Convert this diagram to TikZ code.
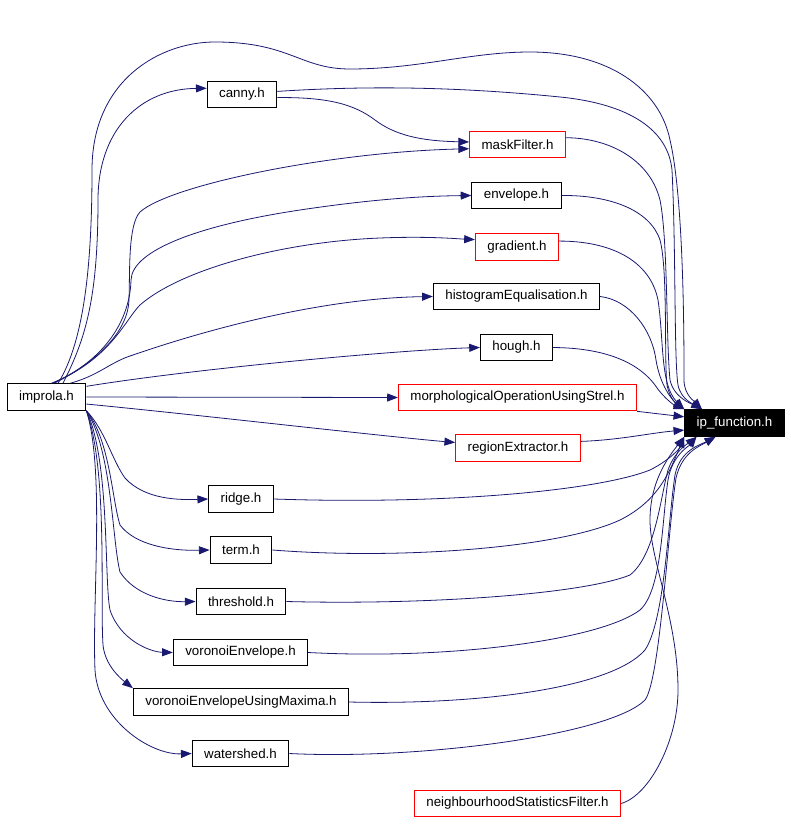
\documentclass[tikz,border=0pt]{standalone}
\usepackage{fontspec}
\setmainfont{Liberation Sans}
\usetikzlibrary{arrows.meta}
\definecolor{midnightblue}{RGB}{25,25,112}
\tikzset{
  hfile/.style={draw=black,line width=0.75pt,fill=white,inner xsep=9pt,inner ysep=0pt,minimum height=20pt,font=\fontsize{10}{12}\selectfont},
  hfilered/.style={hfile,draw=red},
  hfiletop/.style={hfile,fill=black,text=white},
  dep/.style={midnightblue,line width=0.6pt,-{Triangle[length=8pt,width=6pt]}}
}
\begin{document}
\begin{tikzpicture}[x=0.75pt,y=-0.75pt]
\useasboundingbox (0,0) rectangle (791,824);
% files
\node[hfile] (improla) at (46.5,397) {improla.h};
\node[hfiletop] (ip) at (734.5,423) {ip\_function.h};
\node[hfile] (canny) at (242,94.5) {canny.h};
\node[hfilered] (maskFilter) at (517.5,144.5) {maskFilter.h};
\node[hfile] (envelope) at (516.5,195.5) {envelope.h};
\node[hfilered] (gradient) at (517,247) {gradient.h};
\node[hfile] (histogramEqualisation) at (516.5,296.5) {histogramEqualisation.h};
\node[hfile] (hough) at (516.5,347.5) {hough.h};
\node[hfilered] (morphologicalOperationUsingStrel) at (517.5,397.5) {morphologicalOperationUsingStrel.h};
\node[hfilered] (regionExtractor) at (518,448) {regionExtractor.h};
\node[hfile] (ridge) at (241,499) {ridge.h};
\node[hfile] (term) at (241,550) {term.h};
\node[hfile] (threshold) at (241,601.5) {threshold.h};
\node[hfile] (voronoiEnvelope) at (240.5,652.5) {voronoiEnvelope.h};
\node[hfile] (voronoiEnvelopeUsingMaxima) at (241,702) {voronoiEnvelopeUsingMaxima.h};
\node[hfile] (watershed) at (240.5,753.5) {watershed.h};
\node[hfilered] (neighbourhoodStatisticsFilter) at (517.5,803.5) {neighbourhoodStatisticsFilter.h};
% improla.h includes
\draw[dep] (improla.50) .. controls (85,340) and (92,260) .. (92,170) .. controls (92,80) and (160,42) .. (215,42) .. controls (290,42) and (300,69) .. (350,69) .. controls (420,69) and (470,52) .. (530,52) .. controls (610,52) and (660,90) .. (670,140) .. controls (684,200) and (684,340) .. (684,380) .. controls (684,395) and (695,402) .. (ip.157);
\draw[dep] (improla.40) .. controls (85,340) and (98,300) .. (98,200) .. controls (98,130) and (140,89) .. (canny.170);
\draw[dep] (improla.60) .. controls (100,360) and (128,330) .. (129,300) .. controls (130,270) and (128,225) .. (140,212) .. controls (170,185) and (330,152) .. (maskFilter.185);
\draw[dep] (improla.65) .. controls (105,360) and (130,320) .. (131,280) .. controls (132,250) and (200,225) .. (300,210) .. controls (380,198) and (430,196) .. (envelope.west);
\draw[dep] (improla.70) .. controls (110,360) and (125,320) .. (140,305) .. controls (180,270) and (280,242) .. (380,238) .. controls (430,236) and (460,239) .. (gradient.170);
\draw[dep] (improla.30) .. controls (100,375) and (110,362) .. (133,355) .. controls (220,325) and (330,298) .. (histogramEqualisation.west);
\draw[dep] (improla.15) .. controls (200,368) and (400,350) .. (hough.west);
\draw[dep] (improla.east) -- (morphologicalOperationUsingStrel.west);
\draw[dep] (improla.-10) .. controls (200,415) and (380,436) .. (regionExtractor.175);
\draw[dep] (improla.south east) .. controls (105,430) and (112,460) .. (125,478) .. controls (145,500) and (180,500) .. (ridge.west);
\draw[dep] (improla.south east) .. controls (110,440) and (112,500) .. (120,525) .. controls (135,545) and (170,551) .. (term.west);
\draw[dep] (improla.south east) .. controls (112,450) and (112,540) .. (120,572) .. controls (135,595) and (165,602) .. (threshold.west);
\draw[dep] (improla.south east) .. controls (110,460) and (104,580) .. (110,610) .. controls (120,640) and (150,652) .. (voronoiEnvelope.west);
\draw[dep] (improla.south east) .. controls (108,470) and (100,600) .. (103,645) .. controls (105,665) and (120,678) .. (voronoiEnvelopeUsingMaxima.north west);
\draw[dep] (improla.south east) .. controls (105,470) and (92,600) .. (95,670) .. controls (98,720) and (150,755) .. (watershed.west);
% canny.h includes
\draw[dep] (canny.5) .. controls (360,86) and (450,86) .. (560,97) .. controls (630,104) and (668,130) .. (672,170) .. controls (676,250) and (674,360) .. (678,385) .. controls (681,400) and (695,405) .. (ip.157);
\draw[dep] (canny.-5) .. controls (330,97) and (355,105) .. (375,120) .. controls (395,135) and (420,141) .. (maskFilter.177);
% everything includes ip_function.h
\draw[dep] (maskFilter.8) .. controls (610,138) and (650,160) .. (660,200) .. controls (668,240) and (666,340) .. (670,380) .. controls (674,398) and (692,404) .. (ip.157);
\draw[dep] (envelope.east) .. controls (610,195) and (650,210) .. (660,240) .. controls (668,270) and (664,360) .. (667,385) .. controls (670,400) and (678,405) .. (ip.north west);
\draw[dep] (gradient.8) .. controls (610,241) and (650,260) .. (658,300) .. controls (664,340) and (660,385) .. (ip.north west);
\draw[dep] (histogramEqualisation.east) .. controls (630,300) and (652,330) .. (656,360) .. controls (660,385) and (672,400) .. (ip.north west);
\draw[dep] (hough.east) .. controls (610,348) and (640,365) .. (655,385) .. controls (665,400) and (676,406) .. (ip.north west);
\draw[dep] (morphologicalOperationUsingStrel.south east) -- (ip.173);
\draw[dep] (regionExtractor.6) .. controls (620,440) and (650,433) .. (ip.188);
\draw[dep] (ridge.east) .. controls (450,505) and (600,490) .. (650,470) .. controls (670,460) and (680,448) .. (ip.south west);
\draw[dep] (term.east) .. controls (400,560) and (560,548) .. (620,520) .. controls (660,500) and (670,470) .. (ip.south west);
\draw[dep] (threshold.east) .. controls (420,605) and (580,595) .. (630,575) .. controls (655,555) and (660,500) .. (668,470) .. controls (675,450) and (690,442) .. (ip.200);
\draw[dep] (voronoiEnvelope.east) .. controls (450,660) and (600,640) .. (640,610) .. controls (662,590) and (662,520) .. (668,480) .. controls (672,455) and (690,445) .. (ip.200);
\draw[dep] (voronoiEnvelopeUsingMaxima.east) .. controls (470,705) and (610,690) .. (645,650) .. controls (665,620) and (668,520) .. (675,475) .. controls (680,450) and (700,445) .. (ip.216);
\draw[dep] (watershed.east) .. controls (420,760) and (610,735) .. (645,700) .. controls (660,680) and (668,530) .. (676,478) .. controls (682,452) and (700,446) .. (ip.216);
\draw[dep] (neighbourhoodStatisticsFilter.east) .. controls (650,795) and (678,740) .. (678,690) .. controls (678,620) and (650,560) .. (650,520) .. controls (650,480) and (670,455) .. (ip.south west);
\end{tikzpicture}
\end{document}
